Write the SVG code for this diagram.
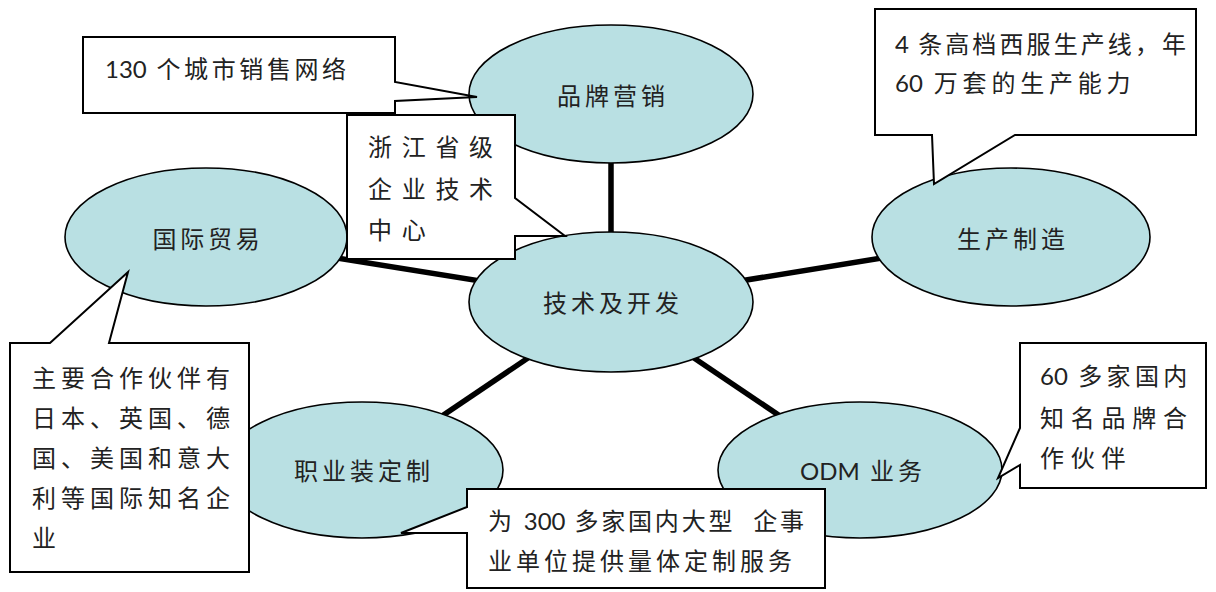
<svg xmlns="http://www.w3.org/2000/svg" width="1216" height="592" viewBox="0 0 1216 592">
<style>
  .bg { fill: #ffffff; }
  .conn { stroke: #000; stroke-width: 5.5; fill: none; }
  .node { fill: #b9e0e3; stroke: #000; stroke-width: 1.6; }
  .callout { fill: #ffffff; stroke: #000; stroke-width: 2; stroke-linejoin: miter; }
  text { font-family: Lato, "Noto Sans CJK SC", sans-serif; font-size: 24px; fill: #222; }
  .nt { text-anchor: middle; letter-spacing: 4px; }
  .num { letter-spacing: 0px; }
</style>
<rect class="bg" x="0" y="0" width="1216" height="592"/>

<g id="connectors">
  <line class="conn" x1="611" y1="302" x2="611" y2="94"/>
  <line class="conn" x1="611" y1="302" x2="206" y2="237"/>
  <line class="conn" x1="611" y1="302" x2="1011" y2="237"/>
  <line class="conn" x1="611" y1="302" x2="362" y2="470"/>
  <line class="conn" x1="611" y1="302" x2="860" y2="470"/>
</g>

<g id="node-brand">
  <ellipse class="node" cx="611" cy="94" rx="142" ry="69"/>
  <text class="nt" x="613" y="105">品牌营销</text>
</g>
<g id="node-tech">
  <ellipse class="node" cx="611" cy="302" rx="142" ry="70"/>
  <text class="nt" x="613" y="312">技术及开发</text>
</g>
<g id="node-trade">
  <ellipse class="node" cx="206" cy="237" rx="141" ry="69"/>
  <text class="nt" x="208" y="248" style="letter-spacing:3.7px">国际贸易</text>
</g>
<g id="node-production">
  <ellipse class="node" cx="1011" cy="237" rx="139" ry="69"/>
  <text class="nt" x="1013" y="248">生产制造</text>
</g>
<g id="node-uniform">
  <ellipse class="node" cx="362" cy="470" rx="141" ry="68"/>
  <text class="nt" x="364" y="480">职业装定制</text>
</g>
<g id="node-odm">
  <ellipse class="node" cx="860" cy="470" rx="142" ry="68"/>
  <text x="800" y="480"><tspan class="num">ODM</tspan><tspan style="letter-spacing:4px"> 业务</tspan></text>
</g>

<g id="callout-sales">
  <path class="callout" d="M83,37 H395 V82 L477,97 L395,101 V113 H83 Z"/>
  <text x="105" y="78"><tspan class="num">130</tspan><tspan style="letter-spacing:3.6px"> 个城市销售网络</tspan></text>
</g>
<g id="callout-techcenter">
  <path class="callout" d="M347,115 H515 V198 L565,236 L515,236 V259 H347 Z"/>
  <text x="368" y="156" style="letter-spacing:9.7px">浙江省级</text>
  <text x="368" y="198" style="letter-spacing:9.7px">企业技术</text>
  <text x="368" y="239" style="letter-spacing:9.7px">中心</text>
</g>
<g id="callout-production">
  <path class="callout" d="M875,9 H1196 V135 H1015 L934,184 L932,135 H875 Z"/>
  <text x="895" y="53"><tspan class="num">4</tspan><tspan style="letter-spacing:3.1px"> 条高档西服生产线，年</tspan></text>
  <text x="895" y="92"><tspan class="num">60</tspan><tspan style="letter-spacing:4.8px"> 万套的生产能力</tspan></text>
</g>
<g id="callout-trade">
  <path class="callout" d="M10,343 H50 L128,272 L109,343 H249 V572 H10 Z"/>
  <text x="32" y="387" style="letter-spacing:5px">主要合作伙伴有</text>
  <text x="32" y="427" style="letter-spacing:5px">日本、英国、德</text>
  <text x="32" y="467" style="letter-spacing:5px">国、美国和意大</text>
  <text x="32" y="507" style="letter-spacing:5px">利等国际知名企</text>
  <text x="32" y="547" style="letter-spacing:5px">业</text>
</g>
<g id="callout-uniform">
  <path class="callout" d="M467,489 H825 V588 H467 V533 L401,533 L467,507 Z"/>
  <text x="488" y="530" xml:space="preserve"><tspan style="letter-spacing:2.8px">为 </tspan><tspan class="num">300</tspan><tspan style="letter-spacing:2.8px"> 多家国内大型  企事</tspan></text>
  <text x="488" y="570" style="letter-spacing:4px">业单位提供量体定制服务</text>
</g>
<g id="callout-odm">
  <path class="callout" d="M1020,343 H1206 V488 H1020 V465 L998,478 L1020,428 Z"/>
  <text x="1040" y="385"><tspan class="num">60</tspan><tspan style="letter-spacing:4.3px"> 多家国内</tspan></text>
  <text x="1040" y="427" style="letter-spacing:6.75px">知名品牌合</text>
  <text x="1040" y="467" style="letter-spacing:6.75px">作伙伴</text>
</g>
</svg>
